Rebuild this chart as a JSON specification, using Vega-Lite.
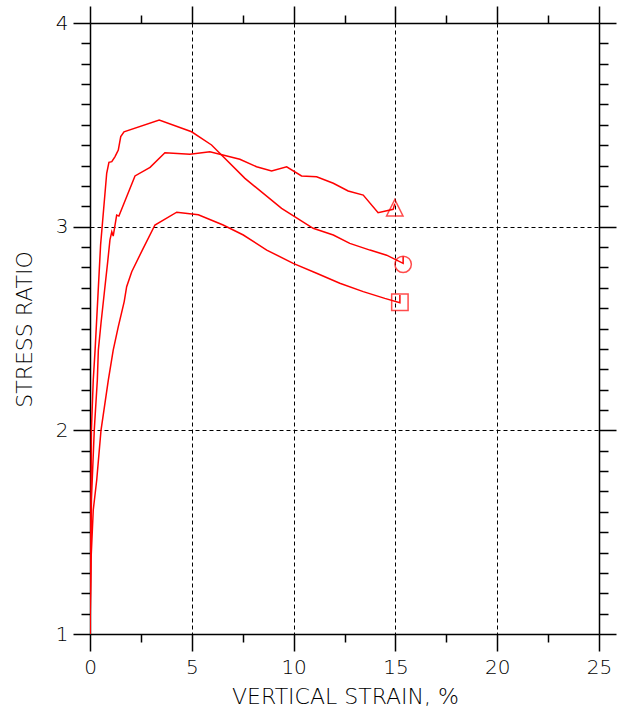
{
  "$schema": "https://vega.github.io/schema/vega-lite/v6.json",
  "width": 509,
  "height": 611,
  "autosize": {"type": "none"},
  "padding": {"left": 90, "top": 23, "right": 25, "bottom": 81},
  "background": "#ffffff",
  "config": {
    "view": {"stroke": null},
    "axis": {
      "domainColor": "#000000",
      "domainWidth": 1.5,
      "tickColor": "#000000",
      "tickWidth": 1.5,
      "labelFont": "DejaVu Sans",
      "labelFontSize": 20,
      "labelFontWeight": 200,
      "labelColor": "#000000",
      "titleFont": "DejaVu Sans",
      "titleFontSize": 22,
      "titleFontWeight": 200,
      "titleColor": "#000000",
      "gridColor": "#000000",
      "gridDash": [4, 3],
      "gridWidth": 1
    }
  },
  "datasets": {
    "curves": [
      {"c": "A", "i": 0, "x": 0, "y": 1},
      {"c": "A", "i": 1, "x": 0.05, "y": 1.658},
      {"c": "A", "i": 2, "x": 0.07, "y": 2.002},
      {"c": "A", "i": 3, "x": 0.16, "y": 2.247},
      {"c": "A", "i": 4, "x": 0.25, "y": 2.394},
      {"c": "A", "i": 5, "x": 0.52, "y": 2.91},
      {"c": "A", "i": 6, "x": 0.82, "y": 3.262},
      {"c": "A", "i": 7, "x": 0.93, "y": 3.316},
      {"c": "A", "i": 8, "x": 1.07, "y": 3.319},
      {"c": "A", "i": 9, "x": 1.23, "y": 3.344},
      {"c": "A", "i": 10, "x": 1.39, "y": 3.376},
      {"c": "A", "i": 11, "x": 1.51, "y": 3.442},
      {"c": "A", "i": 12, "x": 1.67, "y": 3.466},
      {"c": "A", "i": 13, "x": 3.4, "y": 3.524},
      {"c": "A", "i": 14, "x": 4.99, "y": 3.466},
      {"c": "A", "i": 15, "x": 5.97, "y": 3.401},
      {"c": "A", "i": 16, "x": 7.61, "y": 3.237},
      {"c": "A", "i": 17, "x": 9.41, "y": 3.09},
      {"c": "A", "i": 18, "x": 10.96, "y": 2.992},
      {"c": "A", "i": 19, "x": 11.95, "y": 2.959},
      {"c": "A", "i": 20, "x": 12.76, "y": 2.918},
      {"c": "A", "i": 21, "x": 13.75, "y": 2.885},
      {"c": "A", "i": 22, "x": 14.57, "y": 2.86},
      {"c": "A", "i": 23, "x": 15.38, "y": 2.82},
      {"c": "A", "i": 24, "x": 15.38, "y": 2.853},
      {"c": "B", "i": 0, "x": 0, "y": 1},
      {"c": "B", "i": 1, "x": 0.07, "y": 1.658},
      {"c": "B", "i": 2, "x": 0.21, "y": 2.002},
      {"c": "B", "i": 3, "x": 0.36, "y": 2.247},
      {"c": "B", "i": 4, "x": 0.41, "y": 2.394},
      {"c": "B", "i": 5, "x": 0.54, "y": 2.526},
      {"c": "B", "i": 6, "x": 0.7, "y": 2.673},
      {"c": "B", "i": 7, "x": 0.87, "y": 2.828},
      {"c": "B", "i": 8, "x": 0.98, "y": 2.935},
      {"c": "B", "i": 9, "x": 1.07, "y": 2.975},
      {"c": "B", "i": 10, "x": 1.14, "y": 2.954},
      {"c": "B", "i": 11, "x": 1.31, "y": 3.057},
      {"c": "B", "i": 12, "x": 1.42, "y": 3.052},
      {"c": "B", "i": 13, "x": 2.21, "y": 3.249},
      {"c": "B", "i": 14, "x": 2.95, "y": 3.291},
      {"c": "B", "i": 15, "x": 3.68, "y": 3.363},
      {"c": "B", "i": 16, "x": 4.91, "y": 3.355},
      {"c": "B", "i": 17, "x": 5.89, "y": 3.368},
      {"c": "B", "i": 18, "x": 7.36, "y": 3.331},
      {"c": "B", "i": 19, "x": 8.18, "y": 3.294},
      {"c": "B", "i": 20, "x": 8.92, "y": 3.273},
      {"c": "B", "i": 21, "x": 9.66, "y": 3.294},
      {"c": "B", "i": 22, "x": 10.39, "y": 3.249},
      {"c": "B", "i": 23, "x": 11.13, "y": 3.245},
      {"c": "B", "i": 24, "x": 11.95, "y": 3.213},
      {"c": "B", "i": 25, "x": 12.68, "y": 3.175},
      {"c": "B", "i": 26, "x": 13.42, "y": 3.155},
      {"c": "B", "i": 27, "x": 14.15, "y": 3.069},
      {"c": "B", "i": 28, "x": 14.89, "y": 3.085},
      {"c": "B", "i": 29, "x": 14.97, "y": 3.113},
      {"c": "C", "i": 0, "x": 0, "y": 1},
      {"c": "C", "i": 1, "x": 0.05, "y": 1.363},
      {"c": "C", "i": 2, "x": 0.16, "y": 1.609},
      {"c": "C", "i": 3, "x": 0.33, "y": 1.756},
      {"c": "C", "i": 4, "x": 0.54, "y": 2.0},
      {"c": "C", "i": 5, "x": 0.9, "y": 2.247},
      {"c": "C", "i": 6, "x": 1.14, "y": 2.394},
      {"c": "C", "i": 7, "x": 1.39, "y": 2.509},
      {"c": "C", "i": 8, "x": 1.68, "y": 2.632},
      {"c": "C", "i": 9, "x": 1.8, "y": 2.705},
      {"c": "C", "i": 10, "x": 2.05, "y": 2.779},
      {"c": "C", "i": 11, "x": 2.57, "y": 2.885},
      {"c": "C", "i": 12, "x": 3.19, "y": 3.008},
      {"c": "C", "i": 13, "x": 4.26, "y": 3.071},
      {"c": "C", "i": 14, "x": 5.32, "y": 3.058},
      {"c": "C", "i": 15, "x": 6.54, "y": 3.008},
      {"c": "C", "i": 16, "x": 7.53, "y": 2.959},
      {"c": "C", "i": 17, "x": 8.68, "y": 2.885},
      {"c": "C", "i": 18, "x": 9.98, "y": 2.82},
      {"c": "C", "i": 19, "x": 11.13, "y": 2.771},
      {"c": "C", "i": 20, "x": 12.27, "y": 2.722},
      {"c": "C", "i": 21, "x": 13.42, "y": 2.681},
      {"c": "C", "i": 22, "x": 14.48, "y": 2.648},
      {"c": "C", "i": 23, "x": 15.22, "y": 2.627},
      {"c": "C", "i": 24, "x": 15.22, "y": 2.665}
    ],
    "markers": [
      {"c": "A", "x": 15.38, "y": 2.815, "shape": "circle"},
      {"c": "B", "x": 14.97, "y": 3.093, "shape": "M0,-1L-1,1L1,1Z"},
      {"c": "C", "x": 15.22, "y": 2.629, "shape": "square"}
    ]
  },
  "layer": [
    {
      "data": {"name": "curves"},
      "mark": {"type": "line", "color": "#ff0000", "strokeWidth": 1.5, "clip": true},
      "encoding": {
        "x": {
          "field": "x",
          "type": "quantitative",
          "scale": {"domain": [0, 25], "nice": false, "zero": false},
          "axis": {
            "orient": "bottom",
            "values": [0, 2.5, 5, 7.5, 10, 12.5, 15, 17.5, 20, 22.5, 25],
            "tickSize": {"condition": {"test": "datum.value % 5 === 0", "value": 17}, "value": 8},
            "labelExpr": "datum.value % 5 === 0 ? format(datum.value, 'd') : ''",
            "labelPadding": 6,
            "labelFlush": false,
            "labelOverlap": false,
            "grid": true,
            "gridOpacity": {"condition": {"test": "datum.value % 5 === 0 && datum.value > 0 && datum.value < 25", "value": 1}, "value": 0},
            "title": "VERTICAL STRAIN, %",
            "titleX": 255,
            "titleY": 62,
            "titleAlign": "center",
            "titleBaseline": "middle"
          }
        },
        "y": {
          "field": "y",
          "type": "quantitative",
          "scale": {"domain": [1, 4], "nice": false, "zero": false},
          "axis": {
            "orient": "left",
            "values": [1, 1.1, 1.2, 1.3, 1.4, 1.5, 1.6, 1.7, 1.8, 1.9, 2, 2.1, 2.2, 2.3, 2.4, 2.5, 2.6, 2.7, 2.8, 2.9, 3, 3.1, 3.2, 3.3, 3.4, 3.5, 3.6, 3.7, 3.8, 3.9, 4],
            "tickSize": {"condition": {"test": "abs(datum.value - round(datum.value)) < 0.001", "value": 17}, "value": 9},
            "labelExpr": "abs(datum.value - round(datum.value)) < 0.001 ? format(datum.value, 'd') : ''",
            "labelPadding": 5,
            "labelFlush": false,
            "labelOverlap": false,
            "labelBaseline": "middle",
            "grid": true,
            "gridOpacity": {"condition": {"test": "abs(datum.value - 2) < 0.001 || abs(datum.value - 3) < 0.001", "value": 1}, "value": 0},
            "title": "STRESS RATIO",
            "titleX": -66,
            "titleY": 306,
            "titleAngle": -90,
            "titleAlign": "center",
            "titleBaseline": "middle"
          }
        },
        "detail": {"field": "c"},
        "order": {"field": "i", "type": "quantitative"}
      }
    },
    {
      "data": {"name": "markers"},
      "mark": {"type": "point", "filled": false, "stroke": "#ff0000", "strokeWidth": 1.5, "size": 270},
      "encoding": {
        "x": {
          "field": "x",
          "type": "quantitative",
          "scale": {"domain": [0, 25], "nice": false, "zero": false},
          "axis": {
            "orient": "top",
            "values": [0, 2.5, 5, 7.5, 10, 12.5, 15, 17.5, 20, 22.5, 25],
            "tickSize": {"condition": {"test": "datum.value % 5 === 0", "value": 17}, "value": 8},
            "labels": false,
            "grid": false,
            "title": null
          }
        },
        "y": {
          "field": "y",
          "type": "quantitative",
          "scale": {"domain": [1, 4], "nice": false, "zero": false},
          "axis": {
            "orient": "right",
            "values": [1, 1.1, 1.2, 1.3, 1.4, 1.5, 1.6, 1.7, 1.8, 1.9, 2, 2.1, 2.2, 2.3, 2.4, 2.5, 2.6, 2.7, 2.8, 2.9, 3, 3.1, 3.2, 3.3, 3.4, 3.5, 3.6, 3.7, 3.8, 3.9, 4],
            "tickSize": {"condition": {"test": "abs(datum.value - round(datum.value)) < 0.001", "value": 17}, "value": 9},
            "labels": false,
            "grid": false,
            "title": null
          }
        },
        "shape": {"field": "shape", "type": "nominal", "scale": null}
      }
    }
  ],
  "resolve": {"axis": {"x": "independent", "y": "independent"}}
}
